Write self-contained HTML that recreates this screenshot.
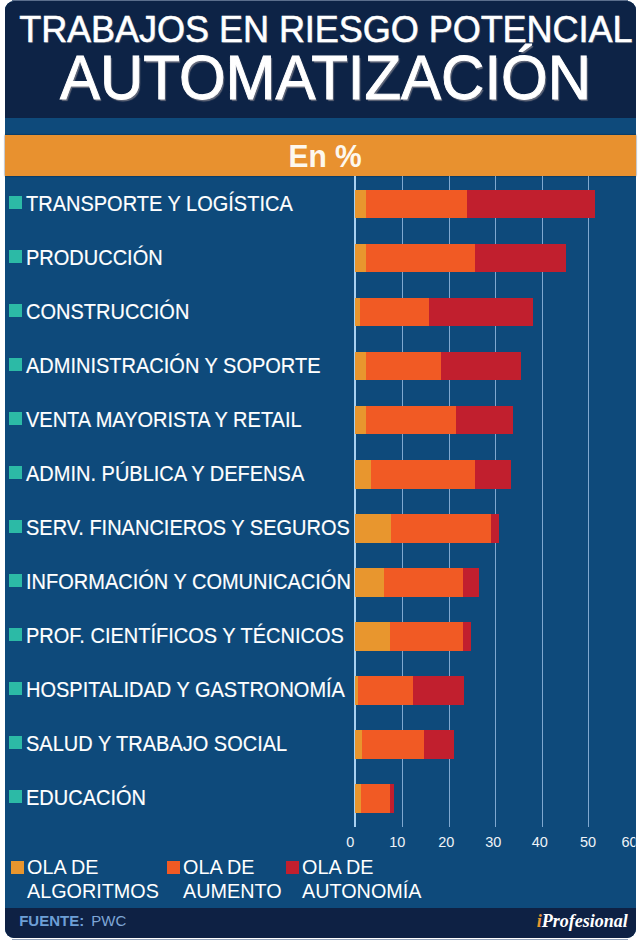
<!DOCTYPE html>
<html><head><meta charset="utf-8">
<style>
html,body{margin:0;padding:0;background:#fff;width:640px;height:940px;overflow:hidden;}
body{position:relative;font-family:"Liberation Sans",sans-serif;}
.a{position:absolute;white-space:nowrap;line-height:1;}
#box{position:absolute;left:5px;top:1px;width:630.5px;height:937px;border-radius:9px;overflow:hidden;background:#0e4a7b;}
#hdr{position:absolute;left:0;top:0;width:631px;height:116.5px;background:#0d2346;}
#band{position:absolute;left:5px;top:134.5px;width:630.5px;height:41px;background:#e8912f;box-shadow:0 0 1.5px rgba(5,20,40,.85);}
#ftr{position:absolute;left:0;top:907px;width:631px;height:30px;background:#0e2144;}
.t1{color:#fff;text-shadow:1.5px 1.5px 1px rgba(130,130,140,.75);-webkit-text-stroke:0.5px #fff;}
.lbl{font-size:20px;color:#fff;left:26px;transform-origin:0 18px;transform:scaleY(1.07);-webkit-text-stroke:0.15px #fff;}
.sq{position:absolute;left:9.3px;width:12.7px;height:13px;background:#2cbaa6;}
.bar{position:absolute;height:28.5px;}
.y{background:#e8962e}.o{background:#f15a24}.r{background:#c11f2e}
.g{position:absolute;top:176px;height:651px;width:1px;background:#7fa8d0;}
.ax{font-size:14.5px;color:#eef3f8;top:834.5px;}
.lg{font-size:19.8px;color:#fff;line-height:24px;}
</style></head><body>
<div style="position:absolute;left:12px;top:0;width:616px;height:1px;background:#5b6e8c;"></div>
<div style="position:absolute;left:12px;top:939px;width:616px;height:1px;background:#95a5bb;"></div>
<div id="box">
  <div id="hdr"></div>
  <div id="ftr"></div>
</div>
<div id="band"></div>

<div class="a t1" style="left:19.2px;top:12px;font-size:36px;letter-spacing:-0.03px;text-shadow:1px 1px 1px rgba(110,115,130,.6);">TRABAJOS EN RIESGO POTENCIAL</div>
<div class="a t1" style="left:60px;top:46.4px;font-size:60px;transform-origin:0 0;transform:scaleY(1.06);-webkit-text-stroke:0.9px #fff;">AUTOMATIZACIÓN</div>
<div class="a" style="left:288.4px;top:140.3px;font-size:30px;font-weight:bold;color:#fdf8ee;transform-origin:0 0;transform:scaleY(1.075);">En %</div>

<!-- gridlines -->
<div class="g" style="left:354px;width:1.5px;background:#a8d0f0;"></div>
<div class="g" style="left:402px;"></div>
<div class="g" style="left:448.5px;"></div>
<div class="g" style="left:495px;"></div>
<div class="g" style="left:542px;"></div>
<div class="g" style="left:588px;"></div>

<!--BARS-->
<div class="sq" style="top:195.50px;"></div>
<div class="a lbl" style="top:193.50px;">TRANSPORTE Y LOGÍSTICA</div>
<div class="bar y" style="top:189.75px;left:355px;width:10.60px;"></div>
<div class="bar o" style="top:189.75px;left:365.6px;width:101.50px;"></div>
<div class="bar r" style="top:189.75px;left:467.1px;width:127.90px;"></div>
<div class="sq" style="top:249.55px;"></div>
<div class="a lbl" style="top:247.55px;">PRODUCCIÓN</div>
<div class="bar y" style="top:243.80px;left:355px;width:10.75px;"></div>
<div class="bar o" style="top:243.80px;left:365.75px;width:108.75px;"></div>
<div class="bar r" style="top:243.80px;left:474.5px;width:91.25px;"></div>
<div class="sq" style="top:303.60px;"></div>
<div class="a lbl" style="top:301.60px;">CONSTRUCCIÓN</div>
<div class="bar y" style="top:297.85px;left:355px;width:5.00px;"></div>
<div class="bar o" style="top:297.85px;left:360px;width:69.00px;"></div>
<div class="bar r" style="top:297.85px;left:429px;width:104.25px;"></div>
<div class="sq" style="top:357.65px;"></div>
<div class="a lbl" style="top:355.65px;">ADMINISTRACIÓN Y SOPORTE</div>
<div class="bar y" style="top:351.90px;left:355px;width:10.75px;"></div>
<div class="bar o" style="top:351.90px;left:365.75px;width:75.50px;"></div>
<div class="bar r" style="top:351.90px;left:441.25px;width:79.25px;"></div>
<div class="sq" style="top:411.70px;"></div>
<div class="a lbl" style="top:409.70px;">VENTA MAYORISTA Y RETAIL</div>
<div class="bar y" style="top:405.95px;left:355px;width:10.75px;"></div>
<div class="bar o" style="top:405.95px;left:365.75px;width:90.50px;"></div>
<div class="bar r" style="top:405.95px;left:456.25px;width:56.25px;"></div>
<div class="sq" style="top:465.75px;"></div>
<div class="a lbl" style="top:463.75px;">ADMIN. PÚBLICA Y DEFENSA</div>
<div class="bar y" style="top:460.00px;left:355px;width:16.25px;"></div>
<div class="bar o" style="top:460.00px;left:371.25px;width:103.25px;"></div>
<div class="bar r" style="top:460.00px;left:474.5px;width:36.00px;"></div>
<div class="sq" style="top:519.80px;"></div>
<div class="a lbl" style="top:517.80px;">SERV. FINANCIEROS Y SEGUROS</div>
<div class="bar y" style="top:514.05px;left:355px;width:35.75px;"></div>
<div class="bar o" style="top:514.05px;left:390.75px;width:100.00px;"></div>
<div class="bar r" style="top:514.05px;left:490.75px;width:8.00px;"></div>
<div class="sq" style="top:573.85px;"></div>
<div class="a lbl" style="top:571.85px;">INFORMACIÓN Y COMUNICACIÓN</div>
<div class="bar y" style="top:568.10px;left:355px;width:28.75px;"></div>
<div class="bar o" style="top:568.10px;left:383.75px;width:79.50px;"></div>
<div class="bar r" style="top:568.10px;left:463.25px;width:15.50px;"></div>
<div class="sq" style="top:627.90px;"></div>
<div class="a lbl" style="top:625.90px;">PROF. CIENTÍFICOS Y TÉCNICOS</div>
<div class="bar y" style="top:622.15px;left:355px;width:34.50px;"></div>
<div class="bar o" style="top:622.15px;left:389.5px;width:73.75px;"></div>
<div class="bar r" style="top:622.15px;left:463.25px;width:8.00px;"></div>
<div class="sq" style="top:681.95px;"></div>
<div class="a lbl" style="top:679.95px;">HOSPITALIDAD Y GASTRONOMÍA</div>
<div class="bar y" style="top:676.20px;left:355px;width:3.00px;"></div>
<div class="bar o" style="top:676.20px;left:358px;width:54.50px;"></div>
<div class="bar r" style="top:676.20px;left:412.5px;width:51.25px;"></div>
<div class="sq" style="top:736.00px;"></div>
<div class="a lbl" style="top:734.00px;">SALUD Y TRABAJO SOCIAL</div>
<div class="bar y" style="top:730.25px;left:355px;width:7.00px;"></div>
<div class="bar o" style="top:730.25px;left:362px;width:61.75px;"></div>
<div class="bar r" style="top:730.25px;left:423.75px;width:30.00px;"></div>
<div class="sq" style="top:790.05px;"></div>
<div class="a lbl" style="top:788.05px;">EDUCACIÓN</div>
<div class="bar y" style="top:784.30px;left:355px;width:5.60px;"></div>
<div class="bar o" style="top:784.30px;left:360.6px;width:29.65px;"></div>
<div class="bar r" style="top:784.30px;left:390.25px;width:3.75px;"></div>
<!--/BARS-->

<div class="a ax" style="left:346.3px;">0</div>
<div class="a ax" style="left:389.3px;">10</div>
<div class="a ax" style="left:438.3px;">20</div>
<div class="a ax" style="left:485.2px;">30</div>
<div class="a ax" style="left:531.8px;">40</div>
<div class="a ax" style="left:580px;">50</div>
<div class="a ax" style="left:621.4px;clip-path:inset(0 calc(100% - 14px) 0 0);">60</div>

<!-- legend -->
<div class="sq" style="left:11px;top:860.5px;background:#e8962e;"></div>
<div class="a lg" style="left:27px;top:855px;">OLA DE<br>ALGORITMOS</div>
<div class="sq" style="left:167px;top:860.5px;background:#f15a24;"></div>
<div class="a lg" style="left:183px;top:855px;">OLA DE<br>AUMENTO</div>
<div class="sq" style="left:286px;top:860.5px;background:#c11f2e;"></div>
<div class="a lg" style="left:302px;top:855px;">OLA DE<br>AUTONOMÍA</div>

<div class="a" style="left:19.2px;top:912.6px;font-size:15px;font-weight:bold;color:#6d9fd6;">FUENTE:</div>
<div class="a" style="left:91.3px;top:912.6px;font-size:15px;color:#7ea6d6;">PWC</div>
<div class="a" style="left:536.8px;top:912px;font-size:18px;font-family:'Liberation Serif',serif;font-weight:bold;font-style:italic;color:#fff;"><span style="color:#e8962e">i</span>Profesional</div>
</body></html>
